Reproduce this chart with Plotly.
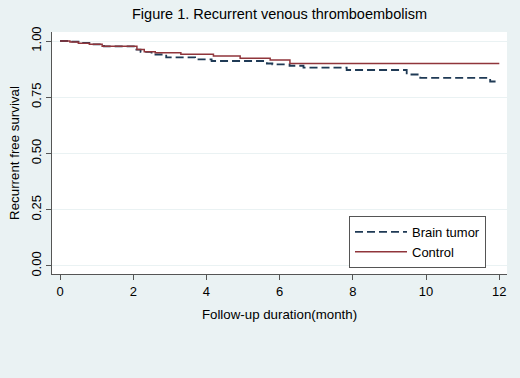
import plotly.graph_objects as go

# ---- data ----
brain_t = [0, 0.3, 0.55, 0.85, 1.2, 2.05, 2.2, 2.5, 2.9, 3.69, 4.14, 5.65, 5.8, 6.27, 6.65, 7.83, 9.47, 9.84, 11.75, 12.0]
brain_s = [1.0, 0.997, 0.992, 0.985, 0.976, 0.962, 0.952, 0.94, 0.927, 0.918, 0.911, 0.90, 0.896, 0.89, 0.882, 0.871, 0.851, 0.836, 0.82, 0.82]

ctrl_t = [0, 0.27, 0.5, 0.8, 1.15, 2.1, 2.3, 2.6, 3.3, 4.19, 4.92, 5.74, 6.28, 12.0]
ctrl_s = [1.0, 0.996, 0.99, 0.985, 0.977, 0.962, 0.952, 0.948, 0.941, 0.933, 0.923, 0.916, 0.90, 0.90]

x_ticks = [0, 2, 4, 6, 8, 10, 12]
y_ticks = [0, 0.25, 0.5, 0.75, 1.0]
y_ticktext = ["0.00", "0.25", "0.50", "0.75", "1.00"]

FONT = "Liberation Sans, Arial, sans-serif"
BG = "#EAF2F3"

fig = go.Figure()
fig.add_trace(go.Scatter(
    x=brain_t, y=brain_s, mode="lines", name="Brain tumor",
    line=dict(shape="hv", color="#1f3a55", width=1.8, dash="8px,4px"),
))
fig.add_trace(go.Scatter(
    x=ctrl_t, y=ctrl_s, mode="lines", name="Control",
    line=dict(shape="hv", color="#90353b", width=1.5),
))

fig.update_layout(
    width=520, height=378,
    margin=dict(l=52, r=13, t=32, b=104, autoexpand=False),
    paper_bgcolor=BG, plot_bgcolor="white",
    font=dict(family=FONT, size=13, color="#000000"),
    title=dict(text="Figure 1. Recurrent venous thromboembolism",
               x=0.5, xref="paper", xanchor="center",
               y=1 - 14 / 378, yref="container", yanchor="middle",
               automargin=False,
               font=dict(size=14.5, family=FONT, color="#000000")),
    showlegend=True,
    legend=dict(x=(349 - 52) / 455, y=(274 - 216) / 242, xanchor="left", yanchor="top",
                bgcolor="white", bordercolor="#555555", borderwidth=1,
                itemwidth=52,
                font=dict(size=13, family=FONT), tracegroupgap=0),
    xaxis=dict(range=[-0.22, 12.21], tickvals=x_ticks, automargin=False,
               ticks="outside", ticklen=5, tickcolor="#555555",
               showline=True, linecolor="#555555", linewidth=1,
               showgrid=False, zeroline=False,
               title=dict(text="Follow-up duration(month)", standoff=12,
                          font=dict(size=13.3))),
    yaxis=dict(range=[-0.036, 1.04], tickvals=y_ticks, ticktext=y_ticktext,
               tickangle=-90, automargin=False,
               ticks="outside", ticklen=5, tickcolor="#555555",
               showline=True, linecolor="#555555", linewidth=1,
               showgrid=True, gridcolor=BG, gridwidth=1, zeroline=False,
               title=dict(text="Recurrent free survival", standoff=6,
                          font=dict(size=13.3))),
)

fig.write_html("out.html", config={"displayModeBar": False},
               post_script="document.body.style.margin='0';")
